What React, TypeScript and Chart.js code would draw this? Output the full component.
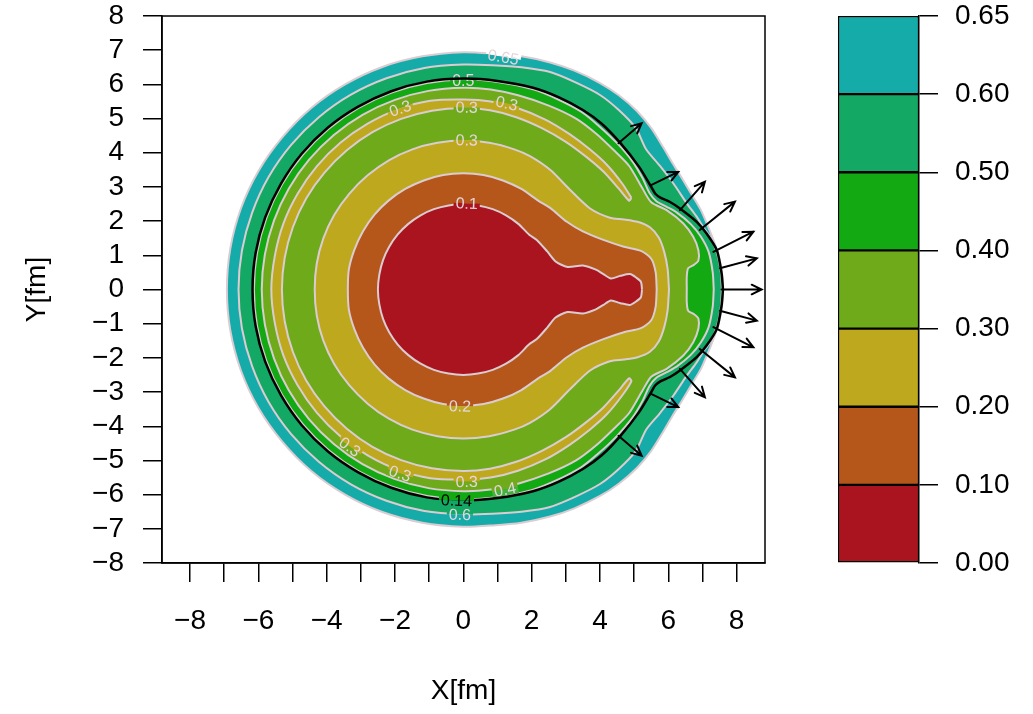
import React, { useEffect, useRef } from 'react';
import { Chart, registerables } from 'chart.js';

Chart.register(...registerables);

type Pt = [number, number];

// ---------- data ----------
const levelLabels = ['0.00', '0.10', '0.20', '0.30', '0.40', '0.50', '0.60', '0.65'];
const levelColors = ['#A9141F', '#B5561A', '#BEA81E', '#6EAA1A', '#13A913', '#14A865', '#15ABA8'];

const xTickValues = [-8, -7, -6, -5, -4, -3, -2, -1, 0, 1, 2, 3, 4, 5, 6, 7, 8];
const yTickValues = [-8, -7, -6, -5, -4, -3, -2, -1, 0, 1, 2, 3, 4, 5, 6, 7, 8];

// Upper halves of the contours (the map is mirror-symmetric in y)
const edge065: Pt[] = [
  [7.6, 0], [7.57, 0.5], [7.46, 1.05], [7.3, 1.5], [7.14, 1.9], [6.95, 2.33], [6.7, 2.75],
  [6.42, 3.22], [6.12, 3.7], [5.85, 4.16], [5.5, 4.72], [5.08, 5.22], [4.55, 5.68], [4.0, 6.04],
  [3.25, 6.4], [2.54, 6.64], [1.7, 6.82], [0.85, 6.9], [0, 6.94], [-1.2, 6.82], [-2.37, 6.51],
  [-3.46, 6.0], [-4.45, 5.31], [-5.3, 4.45], [-6.0, 3.46], [-6.51, 2.37], [-6.82, 1.2], [-6.92, 0],
];
const edge060: Pt[] = [
  [7.57, 0], [7.54, 0.5], [7.42, 1.08], [7.22, 1.55], [7.05, 1.78], [6.83, 2.13], [6.54, 2.52],
  [6.15, 3.1], [5.75, 3.62], [5.35, 4.1], [5.05, 4.72], [4.55, 5.25], [4.0, 5.69], [3.3, 6.05],
  [2.54, 6.36], [1.7, 6.5], [0.85, 6.56], [0, 6.58], [-1.14, 6.48], [-2.25, 6.18], [-3.29, 5.7],
  [-4.23, 5.04], [-5.04, 4.23], [-5.7, 3.29], [-6.18, 2.25], [-6.48, 1.14], [-6.58, 0],
];
const edge050: Pt[] = [
  [7.33, 0], [7.3, 0.5], [7.18, 1.1], [6.95, 1.55], [6.65, 1.92], [6.25, 2.25], [5.95, 2.42],
  [5.65, 2.58], [5.45, 2.82], [5.25, 3.25], [4.95, 3.75], [4.5, 4.28], [3.95, 4.8], [3.45, 5.2],
  [2.75, 5.57], [2.02, 5.86], [1.0, 6.07], [0, 6.14], [-1.06, 6.04], [-2.1, 5.76], [-3.07, 5.31],
  [-3.94, 4.7], [-4.7, 3.94], [-5.31, 3.07], [-5.76, 2.1], [-6.04, 1.06], [-6.13, 0],
];
const edge040: Pt[] = [
  [6.54, 0], [6.54, 0.37], [6.58, 0.62], [6.75, 0.72], [6.88, 0.85], [6.88, 1.15], [6.73, 1.54],
  [6.44, 1.93], [5.95, 2.32], [5.5, 2.55], [5.22, 3.0], [4.85, 3.62], [4.4, 4.08], [3.9, 4.55],
  [3.3, 5.0], [2.5, 5.38], [1.6, 5.68], [0.8, 5.85], [0, 5.9], [-1.02, 5.81], [-2.02, 5.54],
  [-2.95, 5.11], [-3.79, 4.52], [-4.52, 3.79], [-5.11, 2.95], [-5.54, 2.02], [-5.81, 1.02], [-5.9, 0],
];
const horseshoeOuter: Pt[] = [
  [4.92, 2.68], [4.65, 3.1], [4.2, 3.65], [3.7, 4.1], [3.1, 4.55], [2.4, 4.97], [1.6, 5.3],
  [0.8, 5.5], [0, 5.56], [-0.97, 5.52], [-1.92, 5.27], [-2.8, 4.85], [-3.6, 4.29], [-4.29, 3.6],
  [-4.85, 2.8], [-5.27, 1.92], [-5.52, 0.97], [-5.62, 0],
];
const horseshoeInner: Pt[] = [
  [4.85, 2.6], [4.55, 2.95], [4.1, 3.45], [3.6, 3.88], [3.0, 4.32], [2.3, 4.72], [1.55, 5.04],
  [0.78, 5.24], [0, 5.31], [-0.92, 5.23], [-1.82, 4.99], [-2.66, 4.6], [-3.41, 4.07], [-4.07, 3.41],
  [-4.6, 2.66], [-4.99, 1.82], [-5.23, 0.92], [-5.31, 0],
];
const edge030: Pt[] = [
  [6.02, 0], [5.98, 0.6], [5.88, 1.1], [5.72, 1.52], [5.46, 1.82], [5.1, 1.98], [4.7, 2.05],
  [4.29, 2.1], [3.71, 2.37], [3.12, 2.92], [2.54, 3.5], [1.95, 3.9], [1.49, 4.1], [0.76, 4.29],
  [0, 4.36], [-0.76, 4.29], [-1.49, 4.1], [-2.18, 3.78], [-2.8, 3.34], [-3.34, 2.8], [-3.78, 2.18],
  [-4.1, 1.49], [-4.29, 0.76], [-4.35, 0],
];
const edge020: Pt[] = [
  [5.66, 0], [5.63, 0.5], [5.5, 0.9], [5.2, 1.13], [4.7, 1.25], [4.1, 1.45], [3.5, 1.7],
  [3.03, 1.98], [2.55, 2.38], [2.19, 2.6], [1.7, 2.94], [1.16, 3.19], [0.59, 3.35], [0, 3.4],
  [-0.59, 3.35], [-1.16, 3.19], [-1.7, 2.94], [-2.19, 2.6], [-2.6, 2.19], [-2.94, 1.7],
  [-3.19, 1.16], [-3.35, 0.59], [-3.38, 0],
];
const edge010: Pt[] = [
  [5.23, 0], [5.2, 0.22], [5.07, 0.34], [4.88, 0.45], [4.6, 0.4], [4.32, 0.32], [4.1, 0.45],
  [3.88, 0.58], [3.5, 0.7], [3.05, 0.66], [2.7, 0.82], [2.45, 1.12], [2.15, 1.45], [1.92, 1.61],
  [1.61, 1.92], [1.25, 2.17], [0.86, 2.35], [0.43, 2.46], [0, 2.5], [-0.43, 2.46], [-0.86, 2.35],
  [-1.25, 2.17], [-1.61, 1.92], [-1.92, 1.61], [-2.17, 1.25], [-2.35, 0.86], [-2.46, 0.43], [-2.5, 0],
];
const blackContour: Pt[] = [
  [7.6, 0], [7.56, 0.47], [7.42, 1.15], [7.12, 1.64], [6.83, 1.98], [6.34, 2.37], [6.05, 2.56],
  [5.78, 2.68], [5.62, 2.8], [5.5, 3.0], [5.15, 3.58], [4.6, 4.28], [4.05, 4.85], [3.5, 5.25],
  [2.8, 5.62], [2.04, 5.9], [1.0, 6.1], [0, 6.17], [-1.07, 6.08], [-2.11, 5.8], [-3.09, 5.34],
  [-3.97, 4.73], [-4.73, 3.97], [-5.34, 3.09], [-5.8, 2.11], [-6.08, 1.07], [-6.17, 0],
];

const arrowStarts: Pt[] = [
  [4.54, 4.28], [5.51, 3.06], [6.34, 2.32], [6.92, 1.74], [7.32, 1.1], [7.51, 0.62], [7.56, 0],
];
const arrowEnds: Pt[] = [
  [5.22, 4.86], [6.29, 3.44], [7.07, 3.15], [7.95, 2.57], [8.49, 1.69], [8.59, 0.91], [8.73, 0],
];

const contourLabelX = [1.17, 0.0, -1.85, 0.1, 1.27, 0.1, 0.1, -0.1, -3.32, -1.85, 0.1, 1.22, -0.1];
const contourLabelY = [6.8, 6.12, 5.3, 5.33, 5.45, 4.37, 2.52, -3.41, -4.6, -5.38, -5.62, -5.85, -6.58];
const contourLabelText = ['0.65', '0.5', '0.3', '0.3', '0.3', '0.3', '0.1', '0.2', '0.3', '0.3', '0.3', '0.4', '0.6'];
const blackLabel = { x: -0.2, y: -6.17, text: '0.14' };

// ---------- helpers ----------
const mirror = (p: Pt): Pt => [p[0], -p[1]];
function ring(upper: Pt[]): Pt[] {
  return [...upper, ...upper.slice(1, -1).reverse().map(mirror), upper[0]];
}
function horseshoe(outer: Pt[], inner: Pt[]): Pt[] {
  return [
    ...outer,
    ...outer.slice(0, -1).reverse().map(mirror),
    ...inner.map(mirror),
    ...inner.slice(0, -1).reverse(),
    outer[0],
  ];
}
const toXY = (pts: Pt[]) => pts.map(([x, y]) => ({ x, y }));
const fmt = (v: number) => (v < 0 ? '\u2212' + Math.abs(v) : String(v));

const FONT = '"Liberation Sans", Arial, Helvetica, sans-serif';
const LINE = 'rgb(218,204,210)';
const LABEL = 'rgb(228,214,220)';
const BLACK_INDEX = 8;

type Lbl = { x: number; y: number; text: string; color: string };

function drawLabels(chart: any, labels: Lbl[]) {
  const ctx: CanvasRenderingContext2D = chart.ctx;
  const xs = chart.scales.x;
  const ys = chart.scales.y;
  const cx0 = xs.getPixelForValue(0);
  const cy0 = ys.getPixelForValue(0);
  const sample = (x: number, y: number) => {
    const d = ctx.getImageData(Math.round(x), Math.round(y), 1, 1).data;
    const a = d[3] / 255;
    const mix = (c: number) => Math.round(c * a + 255 * (1 - a));
    return `rgb(${mix(d[0])},${mix(d[1])},${mix(d[2])})`;
  };
  ctx.save();
  ctx.font = `16px ${FONT}`;
  const items = labels.map((l) => {
    const px = xs.getPixelForValue(l.x);
    const py = ys.getPixelForValue(l.y);
    const th = Math.atan2(l.y, l.x);
    let rot = Math.atan2(-Math.cos(th), -Math.sin(th));
    if (rot > Math.PI / 2) rot -= Math.PI;
    if (rot < -Math.PI / 2) rot += Math.PI;
    const dx = px - cx0;
    const dy = py - cy0;
    const len = Math.hypot(dx, dy) || 1;
    const nx = dx / len;
    const ny = dy / len;
    const outer = sample(px + nx * 5, py + ny * 5);
    const inner = sample(px - nx * 5, py - ny * 5);
    const dot = nx * -Math.sin(rot) + ny * Math.cos(rot);
    return { ...l, px, py, rot, outer, inner, dot };
  });
  items.forEach((it) => {
    ctx.save();
    ctx.translate(it.px, it.py);
    ctx.rotate(it.rot);
    const w = ctx.measureText(it.text).width + 4;
    const h = 12;
    ctx.fillStyle = it.dot > 0 ? it.inner : it.outer;
    ctx.fillRect(-w / 2, -h / 2, w, h / 2);
    ctx.fillStyle = it.dot > 0 ? it.outer : it.inner;
    ctx.fillRect(-w / 2, 0, w, h / 2);
    ctx.fillStyle = it.color;
    ctx.textAlign = 'center';
    ctx.textBaseline = 'middle';
    ctx.fillText(it.text, 0, 1);
    ctx.restore();
  });
  ctx.restore();
}

const overlayPlugin = {
  id: 'overlay',
  beforeDatasetDraw(chart: any, args: any) {
    if (args.index !== BLACK_INDEX) return;
    drawLabels(
      chart,
      contourLabelText.map((t, i) => ({ x: contourLabelX[i], y: contourLabelY[i], text: t, color: LABEL })),
    );
  },
  afterDatasetsDraw(chart: any) {
    const ctx: CanvasRenderingContext2D = chart.ctx;
    const xs = chart.scales.x;
    const ys = chart.scales.y;
    const ca = chart.chartArea;

    drawLabels(chart, [{ ...blackLabel, color: '#000' }]);

    ctx.save();
    const starts = [...arrowStarts, ...arrowStarts.filter((p) => p[1] !== 0).map(mirror)];
    const ends = [...arrowEnds, ...arrowEnds.filter((p) => p[1] !== 0).map(mirror)];
    ctx.strokeStyle = '#000';
    ctx.lineWidth = 2;
    ctx.lineCap = 'round';
    starts.forEach((s, i) => {
      const e = ends[i];
      const x1 = xs.getPixelForValue(s[0]);
      const y1 = ys.getPixelForValue(s[1]);
      const x2 = xs.getPixelForValue(e[0]);
      const y2 = ys.getPixelForValue(e[1]);
      const a = Math.atan2(y2 - y1, x2 - x1);
      const hl = 11;
      const ha = 0.45;
      ctx.beginPath();
      ctx.moveTo(x1, y1);
      ctx.lineTo(x2, y2);
      ctx.moveTo(x2 - hl * Math.cos(a - ha), y2 - hl * Math.sin(a - ha));
      ctx.lineTo(x2, y2);
      ctx.lineTo(x2 - hl * Math.cos(a + ha), y2 - hl * Math.sin(a + ha));
      ctx.stroke();
    });

    ctx.lineWidth = 1.5;
    ctx.strokeRect(ca.left, ca.top, ca.right - ca.left, ca.bottom - ca.top);
    ctx.restore();
  },
};

export default function App() {
  const mainRef = useRef<HTMLCanvasElement>(null);
  const barRef = useRef<HTMLCanvasElement>(null);

  useEffect(() => {
    if (!mainRef.current || !barRef.current) return;
    Chart.defaults.font.family = FONT;
    Chart.defaults.color = '#000';

    const fillSpec: [Pt[], string][] = [
      [ring(edge065), levelColors[6]],
      [ring(edge060), levelColors[5]],
      [ring(edge050), levelColors[4]],
      [ring(edge040), levelColors[3]],
      [horseshoe(horseshoeOuter, horseshoeInner), levelColors[2]],
      [ring(edge030), levelColors[2]],
      [ring(edge020), levelColors[1]],
      [ring(edge010), levelColors[0]],
    ];
    const n = fillSpec.length + 1;
    const datasets: any[] = fillSpec.map(([pts, col], i) => ({
      data: toXY(pts),
      showLine: true,
      fill: 'shape',
      backgroundColor: col,
      borderColor: LINE,
      borderWidth: 2,
      pointRadius: 0,
      tension: 0.25,
      order: n - i,
    }));
    datasets.push({
      data: toXY(ring(blackContour)),
      showLine: true,
      fill: false,
      borderColor: '#000',
      borderWidth: 2.5,
      pointRadius: 0,
      tension: 0.25,
      order: 0,
    });

    const tickFont = { family: FONT, size: 28 };

    const main = new Chart(mainRef.current, {
      type: 'scatter',
      data: { datasets },
      options: {
        responsive: false,
        animation: false,
        events: [],
        layout: { padding: { left: 0, top: 16, right: 268, bottom: 0 } },
        plugins: { legend: { display: false }, tooltip: { enabled: false } },
        scales: {
          x: {
            type: 'linear',
            min: -8.82,
            max: 8.83,
            afterBuildTicks: (s: any) => {
              s.ticks = xTickValues.map((v) => ({ value: v }));
            },
            afterFit: (s: any) => {
              s.height = 151;
              s.paddingLeft = 0;
              s.paddingRight = 0;
            },
            ticks: {
              autoSkip: false,
              maxRotation: 0,
              padding: 22,
              font: tickFont,
              color: '#000',
              callback: (v: any) => (Number(v) % 2 === 0 ? fmt(Number(v)) : ''),
            },
            grid: { drawOnChartArea: false, tickLength: 19, tickColor: '#000', lineWidth: 1.5 },
            border: { display: true, color: '#000', width: 1.5 },
            title: { display: true, text: 'X[fm]', font: { family: FONT, size: 28 }, color: '#000', padding: { top: 0, bottom: 6 } },
          },
          y: {
            type: 'linear',
            min: -8,
            max: 8,
            afterBuildTicks: (s: any) => {
              s.ticks = yTickValues.map((v) => ({ value: v }));
            },
            afterFit: (s: any) => {
              s.width = 162;
              s.paddingTop = 0;
              s.paddingBottom = 0;
            },
            ticks: {
              autoSkip: false,
              padding: 19,
              font: tickFont,
              color: '#000',
              callback: (v: any) => fmt(Number(v)),
            },
            grid: { drawOnChartArea: false, tickLength: 19, tickColor: '#000', lineWidth: 1.5 },
            border: { display: true, color: '#000', width: 1.5 },
            title: { display: true, text: 'Y[fm]', font: { family: FONT, size: 28 }, color: '#000', padding: { top: 20, bottom: 0 } },
          },
        },
      },
      plugins: [overlayPlugin],
    } as any);

    const bar = new Chart(barRef.current, {
      type: 'bar',
      data: {
        labels: [''],
        datasets: levelColors.map((c) => ({
          data: [1],
          backgroundColor: c,
          borderColor: '#000',
          borderWidth: 1.5,
          borderSkipped: false,
          barPercentage: 1,
          categoryPercentage: 1,
        })),
      },
      options: {
        responsive: false,
        animation: false,
        events: [],
        layout: { padding: { left: 18, top: 16, right: 0, bottom: 151 } },
        plugins: { legend: { display: false }, tooltip: { enabled: false } },
        scales: {
          x: { display: false, stacked: true },
          y: {
            stacked: true,
            position: 'right',
            min: 0,
            max: 7,
            afterBuildTicks: (s: any) => {
              s.ticks = levelLabels.map((_, i) => ({ value: i }));
            },
            afterFit: (s: any) => {
              s.width = 114;
              s.paddingTop = 0;
              s.paddingBottom = 0;
            },
            ticks: {
              autoSkip: false,
              padding: 17,
              font: tickFont,
              color: '#000',
              callback: (v: any) => levelLabels[Number(v)],
            },
            grid: { drawOnChartArea: false, tickLength: 19, tickColor: '#000', lineWidth: 1.5 },
            border: { display: true, color: '#000', width: 1.5 },
          },
        },
      },
    } as any);

    return () => {
      main.destroy();
      bar.destroy();
    };
  }, []);

  return (
    <div style={{ position: 'fixed', left: 0, top: 0, width: 1033, height: 714, background: '#fff' }}>
      <canvas ref={mainRef} width={1033} height={714} style={{ position: 'absolute', left: 0, top: 0 }} />
      <canvas ref={barRef} width={213} height={714} style={{ position: 'absolute', left: 820, top: 0 }} />
    </div>
  );
}
